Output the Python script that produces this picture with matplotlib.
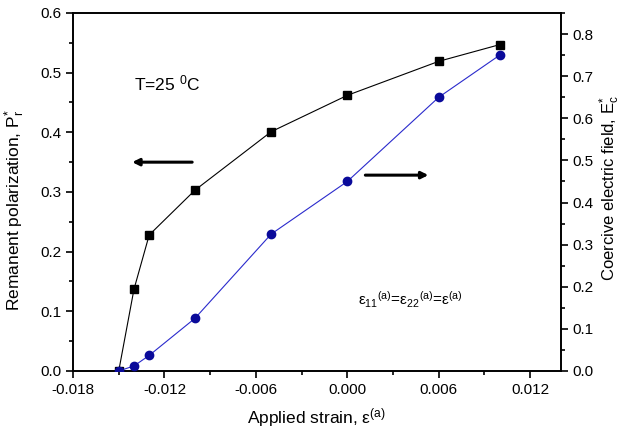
import matplotlib
matplotlib.use("Agg")
import matplotlib.pyplot as plt
from matplotlib.ticker import MultipleLocator, FormatStrFormatter

plt.rcParams['font.family'] = ['Liberation Sans', 'DejaVu Sans']
plt.rcParams['mathtext.fontset'] = 'custom'
plt.rcParams['mathtext.rm'] = 'Liberation Sans'
plt.rcParams['mathtext.it'] = 'Liberation Sans:italic'

strain = [-0.015, -0.014, -0.013, -0.010, -0.005, 0.000, 0.006, 0.010]
Pr = [0.0, 0.137, 0.228, 0.303, 0.401, 0.462, 0.519, 0.547]
Ec = [0.0, 0.012, 0.037, 0.125, 0.325, 0.45, 0.65, 0.75]

fig = plt.figure(figsize=(6.23, 4.33), dpi=100)
ax = fig.add_axes([0.1172, 0.1432, 0.7828, 0.8268])
ax2 = ax.twinx()

ax.plot(strain, Pr, color='black', lw=0.8, marker='s', ms=5.2, mec='black', mfc='black', zorder=3)
ax2.plot(strain, Ec, color='#2a2acc', lw=0.8, marker='o', ms=6, mec='#0a0a9a', mfc='#0a0a9a', zorder=3)

ax.set_xlim(-0.018, 0.014)
ax.set_ylim(0, 0.6)
ax2.set_ylim(0, 0.85)

ax.xaxis.set_major_locator(MultipleLocator(0.006))
ax.xaxis.set_minor_locator(MultipleLocator(0.003))
ax.xaxis.set_major_formatter(FormatStrFormatter('%.3f'))
ax.yaxis.set_major_locator(MultipleLocator(0.1))
ax.yaxis.set_minor_locator(MultipleLocator(0.05))
ax.yaxis.set_major_formatter(FormatStrFormatter('%.1f'))
ax2.yaxis.set_major_locator(MultipleLocator(0.1))
ax2.yaxis.set_minor_locator(MultipleLocator(0.05))
ax2.yaxis.set_major_formatter(FormatStrFormatter('%.1f'))

for a in (ax, ax2):
    for s in a.spines.values():
        s.set_linewidth(1.2)
    a.tick_params(which='major', direction='out', length=5, width=1.2, labelsize=11)
    a.tick_params(which='minor', direction='out', length=3, width=1.2)
ax.tick_params(axis='x', top=False, which='both')

ax.set_xlabel('Applied strain, ε$^{\\mathregular{(a)}}$', fontsize=12.5, labelpad=7)
ax.set_ylabel('Remanent polarization, P$_\\mathregular{r}^{\\mathregular{*}}$', fontsize=12.5)
ax2.set_ylabel('Coercive electric field, E$_\\mathregular{c}^{\\mathregular{*}}$', fontsize=12)
ax.yaxis.set_label_coords(-0.094, 0.45)
ax2.yaxis.set_label_coords(1.076, 0.51)

ax.text(-0.0140, 0.47, 'T=25 $^{\\mathregular{0}}$C', fontsize=12.5)
ax.text(0.0007, 0.11, 'ε$_{\\mathregular{11}}$$^{\\mathregular{(a)}}$=ε$_{\\mathregular{22}}$$^{\\mathregular{(a)}}$=ε$^{\\mathregular{(a)}}$', fontsize=11)

ax.annotate('', xy=(-0.0143, 0.35), xytext=(-0.0100, 0.35),
            arrowprops=dict(arrowstyle='-|>', color='black', lw=2.2, mutation_scale=10))
ax2.annotate('', xy=(0.0055, 0.465), xytext=(0.0010, 0.465),
             arrowprops=dict(arrowstyle='-|>', color='black', lw=2.2, mutation_scale=10))

fig.savefig('out.png', dpi=100)
